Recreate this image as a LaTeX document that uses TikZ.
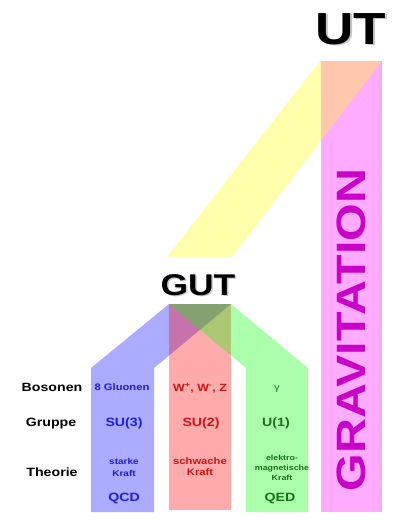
\documentclass[tikz,border=0pt]{standalone}
\usepackage{fontspec}
\setmainfont{Liberation Sans}[FakeStretch=1.18]
\usepackage{xcolor}
\definecolor{qcdtext}{RGB}{30,30,210}
\definecolor{weaktext}{RGB}{205,20,20}
\definecolor{qedtext}{RGB}{20,115,20}
\definecolor{gravtext}{RGB}{200,0,200}
\definecolor{gravband}{RGB}{255,0,255}
\definecolor{utband}{RGB}{255,255,0}

\begin{document}
\begin{tikzpicture}[x=1pt,y=-1pt]
\tikzset{band/.style={opacity=0.33}}
\tikzset{every node/.style={inner sep=0pt,font=\bfseries}}
\tikzset{rowlabel/.style={anchor=base,font=\fontsize{12}{14}\selectfont\bfseries}}
\tikzset{group/.style={anchor=base,font=\fontsize{12}{14}\selectfont\bfseries}}
\tikzset{theory/.style={align=center,font=\fontsize{12}{14}\selectfont\bfseries}}
\tikzset{title/.style={anchor=base,font=\fontsize{30}{32}\selectfont\bfseries}}
\tikzset{bigtitle/.style={anchor=base,font=\fontsize{45}{48}\selectfont\bfseries}}
\tikzset{shadow text/.style={text=black!22}}

\useasboundingbox (0,0) rectangle (420,520);

% bands
\fill[band,gravband] (321,61) rectangle (382,512);
\fill[band,utband] (167,257) -- (232,257) -- (382,61) -- (320,61) -- cycle;
\fill[band,blue] (169,304) -- (231,304) -- (154,368) -- (154,512) -- (91,512) -- (91,368) -- cycle;
\fill[band,red] (169,304) rectangle (231,510);
\fill[band,green] (169,304) -- (231,304) -- (308,368) -- (308,512) -- (246,512) -- (246,368) -- cycle;

% titles
\node[title,shadow text] (gut shadow) at (199.5,296.5) {GUT};
\node[title] (gut) at (198,295) {GUT};
\node[bigtitle,shadow text] (ut shadow) at (352.5,45.5) {UT};
\node[bigtitle] (ut) at (351,44) {UT};
\node[rotate=90,text=gravtext,font=\fontsize{41}{44}\selectfont\bfseries] (grav) at (351,330) {GRAVITATION};

% row labels
\node[rowlabel] (bosonen) at (52,391) {Bosonen};
\node[rowlabel] (gruppe) at (51,426) {Gruppe};
\node[rowlabel] (theorie) at (52,476) {Theorie};

% strong
\node[anchor=base,text=qcdtext,font=\fontsize{9.5}{11}\selectfont\bfseries] (gluonen) at (122,390.5) {8 Gluonen};
\node[group,text=qcdtext] (su3) at (124,426) {SU(3)};
\node[theory,text=qcdtext,font=\fontsize{8.5}{12}\selectfont\bfseries] (strong) at (124,467) {starke\\Kraft};
\node[group,text=qcdtext] (qcd) at (124,501) {QCD};

% weak
\node[anchor=base,text=weaktext,font=\fontsize{10.5}{12}\selectfont\bfseries] (wz) at (200,391) {W\textsuperscript{+}, W\textsuperscript{-}, Z};
\node[group,text=weaktext] (su2) at (201,426) {SU(2)};
\node[theory,text=weaktext,font=\fontsize{9.5}{11}\selectfont\bfseries] (weak) at (200,466.5) {schwache\\Kraft};

% electromagnetic
\node[text=qedtext,font=\fontsize{9}{10}\selectfont] (gamma) at (277,389) {γ};
\node[group,text=qedtext] (u1) at (276,426) {U(1)};
\node[theory,text=qedtext,font=\fontsize{7.5}{10}\selectfont\bfseries] (em) at (282,468) {elektro-\\magnetische\\Kraft};
\node[group,text=qedtext] (qed) at (280,501) {QED};

\end{tikzpicture}
\end{document}
